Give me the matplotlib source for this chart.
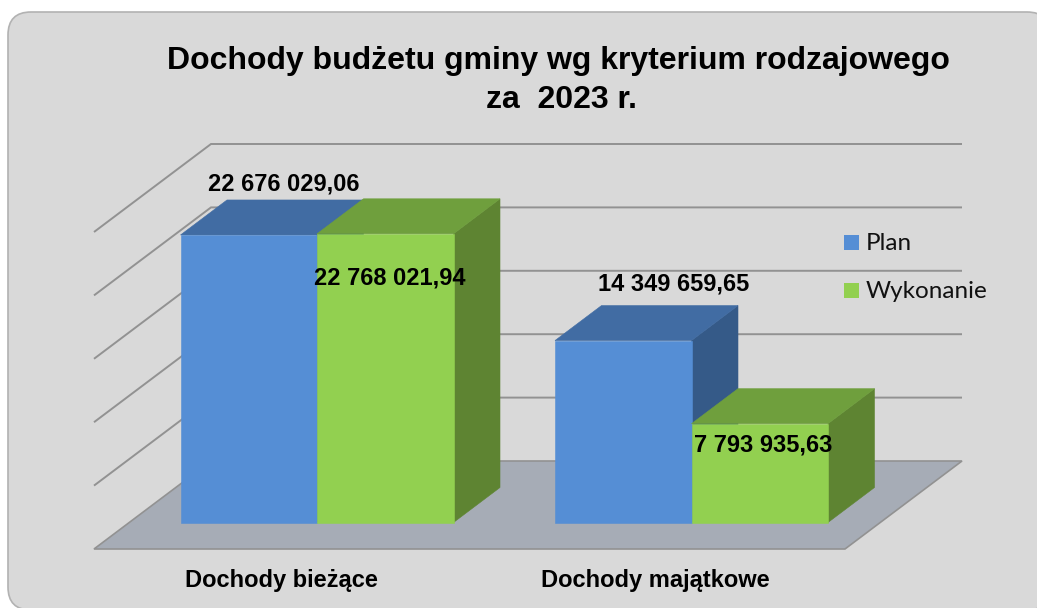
import numpy as np
import matplotlib
matplotlib.use('Agg')
import matplotlib.pyplot as plt
from matplotlib.patches import FancyBboxPatch, Polygon, Rectangle

W, H = 1037, 608
categories = ['Dochody bieżące', 'Dochody majątkowe']
series = ['Plan', 'Wykonanie']
plan = [22676029.06, 14349659.65]
wykonanie = [22768021.94, 7793935.63]
plan_labels = ['22 676 029,06', '14 349 659,65']
wyk_labels = ['22 768 021,94', '7 793 935,63']
grid_values = [0, 5e6, 10e6, 15e6, 20e6, 25e6]

# kolory
BG = '#d9d9d9'
BLUE = ('#558ed5', '#416ca3', '#355a88')
GREEN = ('#92d050', '#6f9f3d', '#5e8432')
FLOOR = '#a6acb6'
GRID = '#929292'

# skala: px na jednostke
px_per_cat = 374.5
px_per_val = 63.4 / 5e6
x0_px = 317.0   # srodek grupy 0
y0_px = 522.5   # podstawa slupkow

fig = plt.figure(figsize=(W / 100, H / 100), dpi=100, facecolor='white')

# tlo w pikselach
bg = fig.add_axes([0, 0, 1, 1])
bg.set_xlim(0, W)
bg.set_ylim(H, 0)
bg.axis('off')
bg.add_patch(FancyBboxPatch((8 + 23, 12 + 23), 1042 - 46, 598 - 46,
                            boxstyle='round,pad=23,rounding_size=23',
                            fc=BG, ec='#b2b2b2', lw=1.2))

# os wykresu: x w kategoriach, y w wartosciach
ax = fig.add_axes([0, 0, 1, 1])
ax.set_xlim(-x0_px / px_per_cat, (W - x0_px) / px_per_cat)
ax.set_ylim((y0_px - H) / px_per_val, y0_px / px_per_val)
ax.axis('off')
ax.patch.set_alpha(0)

# glebokosc podlogi i slupkow (w jednostkach osi)
bar_w = 136.5 / px_per_cat
bar_dx = 46.5 / px_per_cat
bar_dy = 35.0 / px_per_val
floor_dx = 117.0 / px_per_cat
floor_dy = 88.0 / px_per_val
fl = (94 - x0_px) / px_per_cat          # lewy przod podlogi
fr = (845 - x0_px) / px_per_cat         # prawy przod podlogi
fy = (y0_px - 549) / px_per_val         # y przodu podlogi

# podloga
ax.add_patch(Polygon([(fl, fy), (fr, fy), (fr + floor_dx, fy + floor_dy), (fl + floor_dx, fy + floor_dy)],
                     closed=True, fc=FLOOR, ec=GRID, lw=1.2, zorder=1))

# linie siatki
for v in grid_values[1:]:
    ax.plot([fl, fl + floor_dx, fr + floor_dx], [fy + v, fy + floor_dy + v, fy + floor_dy + v],
            color=GRID, lw=1.4, zorder=2, solid_capstyle='butt', solid_joinstyle='miter')


def bar3d(left, value, cols, z):
    right = left + bar_w
    ax.add_patch(Rectangle((left, 0), bar_w, value, fc=cols[0], ec=cols[0], lw=0.4, zorder=z + 2))
    ax.add_patch(Polygon([(left, value), (right, value), (right + bar_dx, value + bar_dy), (left + bar_dx, value + bar_dy)],
                         closed=True, fc=cols[1], ec=cols[1], lw=0.4, zorder=z + 1))
    ax.add_patch(Polygon([(right, 0), (right + bar_dx, bar_dy), (right + bar_dx, value + bar_dy), (right, value)],
                         closed=True, fc=cols[2], ec=cols[2], lw=0.4, zorder=z))


for i in range(2):
    bar3d(i - bar_w, plan[i], BLUE, 3 + i * 10)
    bar3d(i, wykonanie[i], GREEN, 6 + i * 10)

ARIAL = 'Liberation Sans'

# teksty
bg_txt = fig.add_axes([0, 0, 1, 1])
bg_txt.set_xlim(0, W)
bg_txt.set_ylim(H, 0)
bg_txt.axis('off')
bg_txt.patch.set_alpha(0)

bg_txt.text(558.5, 61.5, 'Dochody budżetu gminy wg kryterium rodzajowego', ha='center', va='center',
            fontsize=23, fontweight='bold', family=ARIAL, color='black')
bg_txt.text(561.5, 99.5, 'za  2023 r.', ha='center', va='center',
            fontsize=23, fontweight='bold', family=ARIAL, color='black')

label_pos = [(284, 184), (674, 284)]
for (x, y), s in zip(label_pos, plan_labels):
    bg_txt.text(x, y, s, ha='center', va='center', fontsize=17, fontweight='bold', family=ARIAL, color='black')
label_pos = [(390, 278), (763, 445)]
for (x, y), s in zip(label_pos, wyk_labels):
    bg_txt.text(x, y, s, ha='center', va='center', fontsize=17, fontweight='bold', family=ARIAL, color='black')

for x, s in zip([281.5, 655.5], categories):
    bg_txt.text(x, 581, s, ha='center', va='center', fontsize=17, fontweight='bold', family=ARIAL, color='black')

# legenda
for y, s, c in zip([242.5, 290.5], series, [BLUE[0], GREEN[0]]):
    bg_txt.add_patch(Rectangle((844, y - 7.5), 15, 15, fc=c, ec='none'))
    bg_txt.text(866, y + 1, s, ha='left', va='center', fontsize=17.5, family='Lato', color='#111111')

fig.savefig('out.png', dpi=100)
